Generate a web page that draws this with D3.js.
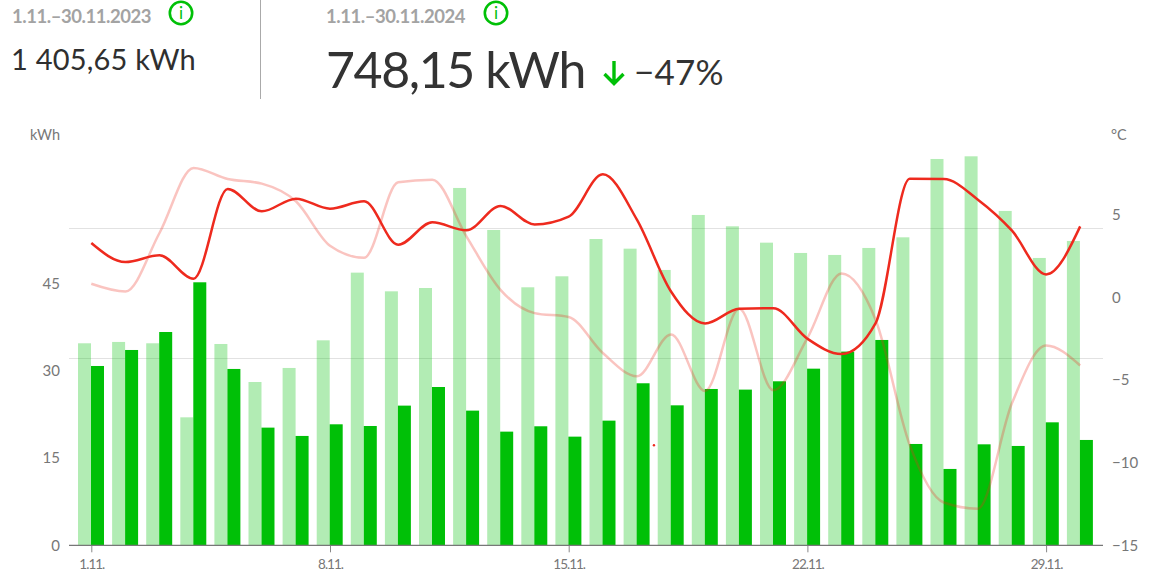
<!DOCTYPE html>
<html><head><meta charset="utf-8">
<script src="https://cdn.jsdelivr.net/npm/d3@7"></script>
<style>html,body{margin:0;padding:0;background:#fff}svg{display:block}text{font-family:Lato,"Noto Sans",sans-serif}</style>
</head><body><svg id="c" width="1171" height="579"></svg>
<script>
const days = d3.range(1, 31);
const kwh2023 = [34.71,34.94,34.71,21.99,34.59,28.06,30.47,35.22,46.85,43.64,44.21,61.40,54.18,44.33,46.22,52.63,50.97,47.31,56.76,54.81,52.00,50.23,49.89,51.09,52.92,66.38,66.84,57.45,49.37,52.29];
const kwh2024 = [30.81,33.56,36.65,45.19,30.30,20.22,18.79,20.79,20.50,24.00,27.20,23.14,19.53,20.45,18.67,21.42,27.84,24.05,26.86,26.75,28.18,30.35,33.28,35.28,17.41,13.12,17.35,17.07,21.13,18.10];
const temp2024 = [3.30,2.15,2.56,1.14,6.58,5.22,5.99,5.38,5.83,3.20,4.56,4.07,5.55,4.43,4.90,7.46,4.72,0.37,-1.57,-0.68,-0.64,-2.49,-3.42,-1.55,7.20,7.18,5.93,4.05,1.40,4.31];
const temp2023 = [0.84,0.37,3.91,7.85,7.18,6.90,5.83,3.14,2.41,6.98,7.14,3.71,0.47,-0.94,-1.18,-3.36,-4.76,-2.23,-5.65,-0.68,-5.61,-2.45,1.46,-1.34,-8.92,-12.41,-12.78,-6.39,-2.90,-4.11];
const xTicks = [1,8,15,22,29];
const kwhTicks = [0,15,30,45];
const tempTicks = [-15,-10,-5,0,5];
const gridKwh = [32.13,54.47];
const strayDot = [{day:17.5,temp:-8.94}];

const GREEN="#00c007", RED="#ee2a1e", GREY="#777";
const svg=d3.select("#c");
const x=d3.scaleLinear().domain([1,29]).range([91.3,1046.1]);
const yK=d3.scaleLinear().domain([0,45]).range([545.3,283.4]);
const yT=d3.scaleLinear().domain([-15,5]).range([545.3,215]);
const left=69,right=1103,bw=x(1.381)-x(1),off=-0.3;

// header
const hdr=svg.append("g");
function t(px,py,s,size,fill,weight,ls){return hdr.append("text").attr("x",px).attr("y",py).text(s).attr("font-size",size).attr("fill",fill).attr("font-weight",weight||400).attr("letter-spacing",ls||0);}
t(12,23,"1.11.–30.11.2023",18.5,"#a3a3a3",700,-0.45);
t(326,23,"1.11.–30.11.2024",18.5,"#a3a3a3",700,-0.45);
t(11,70,"1 405,65 kWh",29,"#2f2f2f",400,0.2);
t(326,88,"748,15 kWh",50,"#333",400,-1.4);
t(634,85,"−47%",35,"#333",400,0.2);
[181,496].forEach(cx=>{
  hdr.append("circle").attr("cx",cx).attr("cy",13).attr("r",11.2).attr("fill","#fff").attr("stroke",GREEN).attr("stroke-width",2.6);
  hdr.append("text").attr("x",cx).attr("y",19).attr("text-anchor","middle").attr("font-size",17).attr("fill",GREEN).text("i");
});
hdr.append("line").attr("x1",260.5).attr("x2",260.5).attr("y1",0).attr("y2",99).attr("stroke","#aaa");
hdr.append("path").attr("d","M614 61V83M604.5 74L614 83.5L623.5 74").attr("fill","none").attr("stroke",GREEN).attr("stroke-width",3.4);

// grid
svg.append("g").selectAll("line").data(gridKwh).join("line")
  .attr("x1",left).attr("x2",right).attr("y1",d=>Math.round(yK(d))+.5).attr("y2",d=>Math.round(yK(d))+.5)
  .attr("stroke","#e2e2e2").attr("stroke-width",1);

// bars
svg.append("g").selectAll("rect").data(days).join("rect")
  .attr("x",d=>x(d)-bw+off).attr("width",bw).attr("y",d=>yK(kwh2023[d-1])).attr("height",d=>yK(0)-yK(kwh2023[d-1]))
  .attr("fill",GREEN).attr("fill-opacity",.3);
svg.append("g").selectAll("rect").data(days).join("rect")
  .attr("x",d=>x(d)+off).attr("width",bw).attr("y",d=>yK(kwh2024[d-1])).attr("height",d=>yK(0)-yK(kwh2024[d-1]))
  .attr("fill",GREEN);

// axes
const fmtNum=d=>String(d).replace("-","−");
const gb=svg.append("g").attr("transform",`translate(0,${yK(0)})`)
  .call(d3.axisBottom(x).tickValues(xTicks).tickSize(7).tickPadding(7).tickFormat(d=>d+".11."));
gb.select(".domain").remove();
gb.selectAll("line").attr("stroke","#888");
gb.selectAll("text").attr("font-size",13.5).attr("fill",GREY).attr("letter-spacing",-1).attr("font-family","Lato");
svg.append("line").attr("x1",left).attr("x2",right).attr("y1",yK(0)).attr("y2",yK(0)).attr("stroke","#777").attr("stroke-width",1.2);

const gl=svg.append("g").attr("transform","translate(60,0)")
  .call(d3.axisLeft(yK).tickValues(kwhTicks).tickSize(0).tickPadding(0).tickFormat(fmtNum));
gl.select(".domain").remove();
gl.selectAll("text").attr("font-size",15).attr("fill",GREY).attr("font-family","Lato");
const gr=svg.append("g").attr("transform","translate(1112,0)")
  .call(d3.axisRight(yT).tickValues(tempTicks).tickSize(0).tickPadding(0).tickFormat(fmtNum));
gr.select(".domain").remove();
gr.selectAll("text").attr("font-size",15).attr("fill",GREY).attr("font-family","Lato");
svg.append("text").attr("x",60).attr("y",140).attr("text-anchor","end").attr("font-size",14.5).attr("fill",GREY).text("kWh");
svg.append("text").attr("x",1111).attr("y",140).attr("font-size",14.5).attr("fill",GREY).text("°C");

// lines
const line=arr=>d3.line().x(d=>x(d)).y(d=>yT(arr[d-1])).curve(d3.curveMonotoneX)(days);
svg.append("path").attr("d",line(temp2023)).attr("fill","none").attr("stroke",RED).attr("stroke-width",2.5).attr("stroke-opacity",.28);
svg.append("path").attr("d",line(temp2024)).attr("fill","none").attr("stroke",RED).attr("stroke-width",2.5);
svg.append("g").selectAll("circle").data(strayDot).join("circle")
  .attr("cx",d=>x(d.day)).attr("cy",d=>yT(d.temp)).attr("r",1.2).attr("fill",RED);
</script></body></html>
